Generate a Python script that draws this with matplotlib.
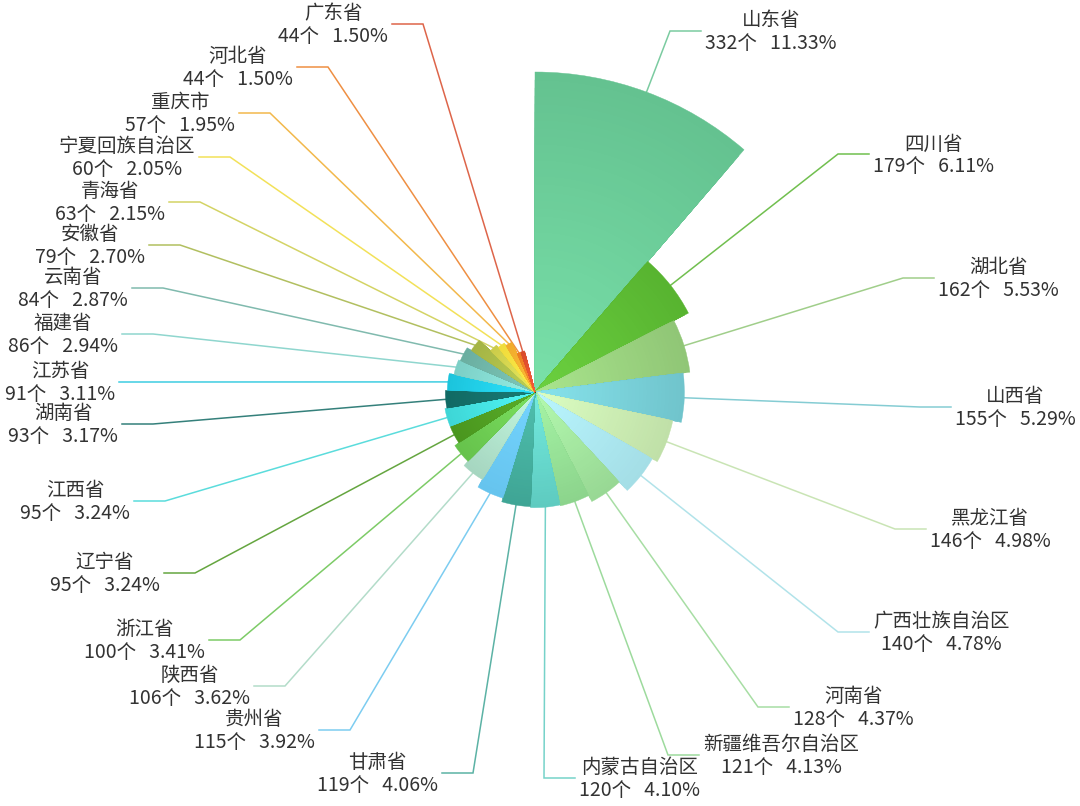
import colorsys
import numpy as np
import matplotlib
matplotlib.use("Agg")
import matplotlib.pyplot as plt
from matplotlib.patches import Wedge
from matplotlib.colors import to_rgb

plt.rcParams['font.family'] = ['Noto Sans CJK SC', 'DejaVu Sans']

# ---- data ----
provinces = ['山东省', '四川省', '湖北省', '山西省', '黑龙江省', '广西壮族自治区', '河南省',
             '新疆维吾尔自治区', '内蒙古自治区', '甘肃省', '贵州省', '陕西省', '浙江省', '辽宁省',
             '江西省', '湖南省', '江苏省', '福建省', '云南省', '安徽省', '青海省',
             '宁夏回族自治区', '重庆市', '河北省', '广东省']
counts = [332, 179, 162, 155, 146, 140, 128, 121, 120, 119, 115, 106, 100, 95,
          95, 93, 91, 86, 84, 79, 63, 60, 57, 44, 44]
percents = [11.33, 6.11, 5.53, 5.29, 4.98, 4.78, 4.37, 4.13, 4.10, 4.06, 3.92, 3.62, 3.41, 3.24,
            3.24, 3.17, 3.11, 2.94, 2.87, 2.70, 2.15, 2.05, 1.95, 1.50, 1.50]

# ---- style ----
colors = ['#64c290', '#58b430', '#90c676', '#70c4cc', '#c0e0a8', '#a4dee6', '#98d894',
          '#8cd48c', '#5ecbc0', '#3fa595', '#66c4ee', '#a6d6c0', '#66c24c', '#4a961e',
          '#3ed6d6', '#116a64', '#1cc4dc', '#7ccfc6', '#6aaea0', '#a4b444', '#cccc4a',
          '#f0dc3c', '#f0ac2c', '#ec7c22', '#d84a2a']

# label elbow points (pixel layout, y downward)
elbows = [(670, 31), (838, 154), (903, 278), (920, 407), (895, 529), (838, 632), (758, 707),
          (668, 755), (544, 778), (473, 773), (350, 730), (285, 686), (240, 640), (195, 573),
          (165, 501), (153, 424), (150, 382), (153, 334), (163, 288), (180, 245), (200, 202),
          (230, 157), (270, 113), (328, 67), (423, 24)]

W, H = 1080, 806
cx, cy = 535, 392
R_MAX = 320
ARM = 31

fig = plt.figure(figsize=(W / 100, H / 100), dpi=100)
ax = fig.add_axes([0, 0, 1, 1])
ax.set_xlim(0, W)
ax.set_ylim(H, 0)
ax.axis('off')


def shade(c, f):
    r, g, b = to_rgb(c)
    h, s, v = colorsys.rgb_to_hsv(r, g, b)
    return colorsys.hsv_to_rgb(h, s * 0.95, min(1.0, v * f))


vmax = max(counts)
start = 0.0
steps = 40
for name, n, p, col, (ex, ey) in zip(provinces, counts, percents, colors, elbows):
    sweep = p * 3.6
    a0, a1 = start, start + sweep
    r = n / vmax * R_MAX
    outer = np.array(to_rgb(col))
    inner = np.array(shade(col, 1.16))
    # radial gradient: lighter towards the center
    for k in range(steps, 0, -1):
        t = k / steps
        c = inner + (outer - inner) * t
        ax.add_patch(Wedge((cx, cy), r * t, a0 - 90, a1 - 90, facecolor=c,
                           edgecolor=c, linewidth=0.3, zorder=2))
    mid = np.radians((a0 + a1) / 2)
    sx, sy = cx + r * np.sin(mid), cy - r * np.cos(mid)
    right = (a0 + a1) / 2 < 180
    endx = ex + ARM if right else ex - ARM
    ax.plot([sx, ex, endx], [sy, ey, ey], color=col, lw=1.1, alpha=0.85, zorder=1,
            solid_joinstyle='miter')
    label = f"{name}\n{n}个   {p:.2f}%"
    ax.text(endx + (4 if right else -4), ey + 1, label,
            ha='left' if right else 'right', va='center', multialignment='center',
            fontsize=14, color='#333333', linespacing=1.08, zorder=3)
    start = a1

fig.savefig('out.png', dpi=100, facecolor='white')
